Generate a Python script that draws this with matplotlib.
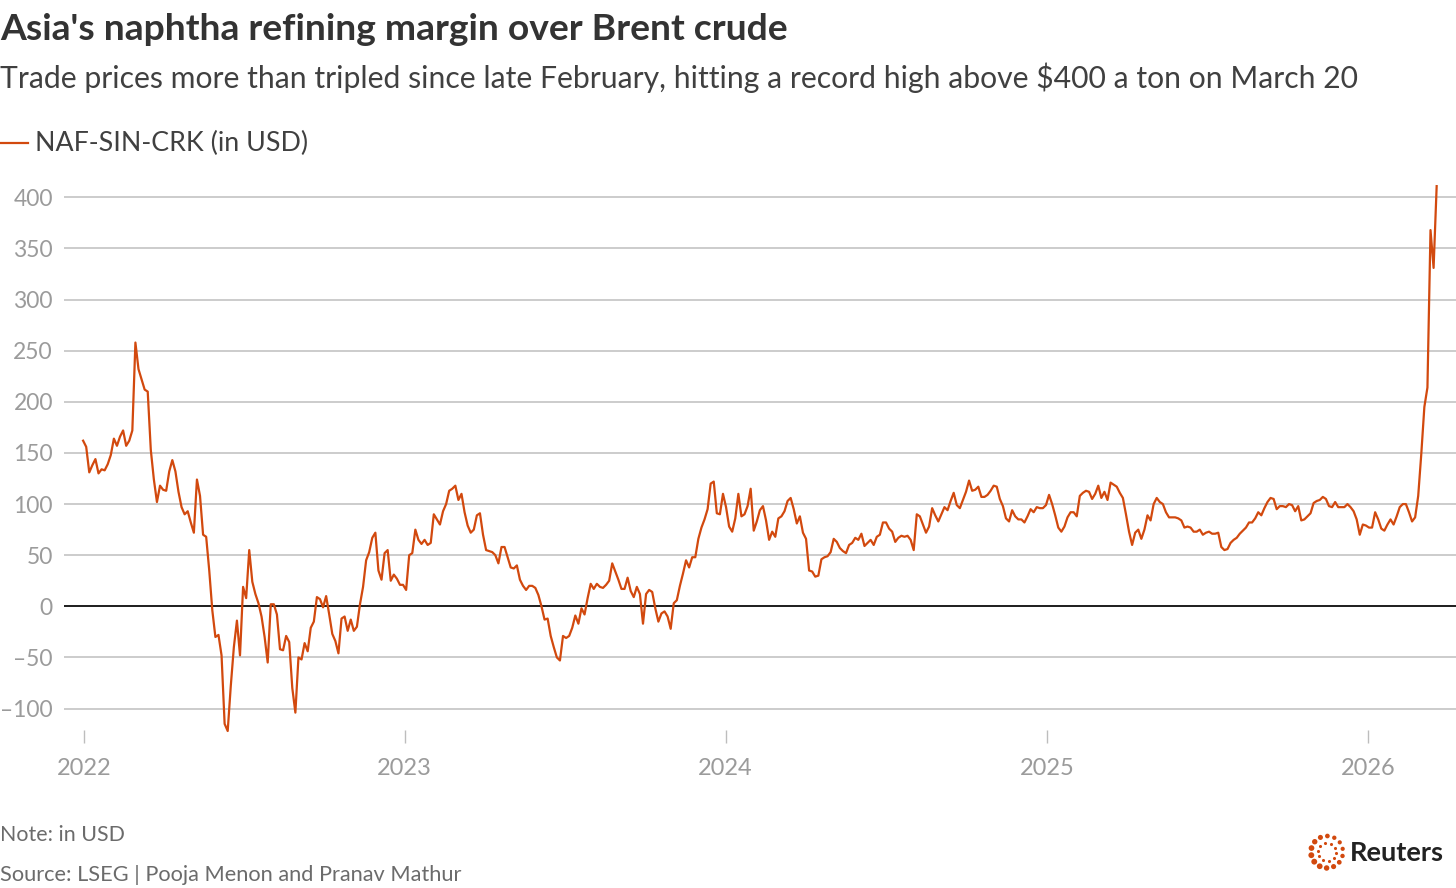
import matplotlib
matplotlib.use("Agg")
import matplotlib.pyplot as plt
import matplotlib.dates as mdates
import matplotlib.ticker as mticker
import numpy as np
import pandas as pd

# ---------------- data (semi-weekly readings, USD/ton) ----------------
series_name = "NAF-SIN-CRK (in USD)"
start_date = "2021-12-31"
end_date = "2026-03-20"
margin_values = [
    162, 156, 131, 138, 144, 130, 134, 133, 139, 148,
    164, 157, 166, 172, 157, 162, 172, 258, 232, 222,
    212, 210, 153, 124, 102, 118, 114, 113, 132, 143,
    132, 112, 97, 90, 93, 82, 72, 124, 108, 70,
    68, 35, -4, -30, -28, -48, -115, -122, -78, -40,
    -14, -48, 19, 8, 55, 24, 12, 3,
    -10, -30,
    -55, 2, 2, -8, -42, -43, -29, -35, -80, -104,
    -50, -52, -36, -44, -21, -15, 9, 7, -1, 10,
    -8, -27, -34, -46, -12, -10, -24, -13, -24, -20,
    2, 19, 45, 53, 67, 72, 35, 26, 52, 55,
    25, 31, 27, 21, 21, 16, 50, 52, 75, 65,
    61, 65, 60,
    62, 90, 85, 80, 93, 100, 113,
    115, 118, 104, 110, 92, 79, 72, 75, 89, 91,
    70, 55, 54, 53, 50, 42, 58, 58, 48, 38,
    37, 40, 26, 20, 16, 20, 20, 18, 11, 0,
    -13, -12, -29, -40, -50, -53, -29, -31, -29, -21,
    -9, -17, -2, -8, 8, 22, 17, 22, 19,
    18, 21, 25, 42, 34, 26, 17, 17, 28, 15, 9,
    19, 12, -17, 12, 16, 14, -2, -15, -7, -5,
    -10, -22, 3, 6, 20, 32, 45, 38, 48, 48,
    66, 77, 85, 95, 120, 122, 91, 90, 110, 97,
    78, 73, 86, 110, 88, 90, 98, 115, 74, 83,
    94, 98, 84, 65,
    73, 68, 86, 88, 93, 103,
    106, 95, 81, 88, 72, 66, 35, 34, 29, 30,
    46, 48, 49, 53, 66, 63, 57, 54, 52, 60,
    62, 67, 65, 71, 59, 62, 65, 60, 68, 70,
    82, 82, 76, 73, 63, 67, 69, 68, 69, 65,
    55, 90, 88, 80, 72, 78, 96, 89, 83,
    90, 97, 94, 103, 111, 99, 96, 104, 112, 123, 113,
    114, 117, 107, 107, 109, 113, 118, 117, 105, 98,
    86, 83, 94, 88, 85, 85, 82, 88, 95, 92,
    97, 96, 96, 99, 109, 100, 89, 77, 73, 78,
    87, 92, 92, 88, 108, 111, 113, 112, 105, 110,
    118, 106, 112, 104,
    121, 119, 117, 111, 106, 90,
    73, 60, 72, 75, 66, 75, 89, 84, 100, 106,
    102, 100, 92, 87, 87, 87, 86, 84, 77, 78,
    77, 73, 73, 75, 70, 72, 73, 71, 71, 72,
    58, 55, 56, 62, 65, 67, 71, 74, 77, 82,
    82, 86, 92, 89, 96, 102, 106, 105, 95, 98,
    98, 97, 100, 99, 93, 98, 84, 85, 88, 91,
    101, 103, 104, 107, 105, 98, 97, 102, 97, 97,
    97, 100, 97, 93, 85, 70, 80, 79, 77, 77,
    92, 85, 76, 74, 80, 85, 80, 88, 97, 100,
    100, 92, 83, 87, 108, 149, 195, 214, 368, 331, 411,
]
y_ticks = [-100, -50, 0, 50, 100, 150, 200, 250, 300, 350, 400]
x_tick_years = [2022, 2023, 2024, 2025, 2026]

title = "Asia's naphtha refining margin over Brent crude"
subtitle = ("Trade prices more than tripled since late February, hitting a record "
            "high above $400 a ton on March 20")
note = "Note: in USD"
source = "Source: LSEG | Pooja Menon and Pranav Mathur"

# ---------------- style ----------------
FONT = ["Lato", "DejaVu Sans"]
plt.rcParams["font.family"] = FONT
LINE_C = "#d2490e"
TEXT_C = "#404040"
TICK_C = "#9b9b9b"
GRID_C = "#c4c4c4"

dates = pd.date_range(end=end_date, periods=len(margin_values), freq="84h")

W, H = 1456, 888
fig = plt.figure(figsize=(W / 100, H / 100), dpi=100)
fig.patch.set_facecolor("white")

ax = fig.add_axes([64 / W, (H - 730) / H, 1 - 64 / W, (730 - 180) / H])
ax.plot(dates, margin_values, color=LINE_C, lw=1.6, clip_on=False, zorder=3,
        solid_joinstyle="round")
ax.axhline(0, color="#111111", lw=1.3, zorder=2)

ax.set_ylim(-121, 417)
ax.set_xlim(pd.Timestamp("2021-12-09 06:00"), pd.Timestamp("2026-04-11"))
ax.set_yticks(y_ticks)
ax.yaxis.set_major_formatter(
    mticker.FuncFormatter(lambda v, p: f"{v:.0f}".replace("-", "\u2013")))
ax.set_xticks([pd.Timestamp(f"{y}-01-01") for y in x_tick_years])
ax.xaxis.set_major_formatter(mdates.DateFormatter("%Y"))
ax.grid(axis="y", color=GRID_C, lw=1.2, zorder=1)
ax.grid(axis="x", visible=False)
for s in ax.spines.values():
    s.set_visible(False)
ax.tick_params(axis="y", length=0, pad=8, labelsize=16.5, labelcolor=TICK_C)
ax.tick_params(axis="x", length=9, width=1.0, color="#bdbdbd", direction="out",
               pad=11, labelsize=17, labelcolor=TICK_C)
for lab in ax.get_yticklabels():
    lab.set_horizontalalignment("right")

# ---------------- texts ----------------
fig.text(0.0, 1 - 29 / H, title, fontsize=26.8, fontweight="bold", color="#333333",
         va="center", ha="left")
fig.text(0.0, 1 - 78 / H, subtitle, fontsize=21.7, color=TEXT_C, va="center", ha="left")
fig.add_artist(plt.Line2D([0, 28 / W], [1 - 143 / H, 1 - 143 / H], color=LINE_C,
                          lw=1.6, transform=fig.transFigure))
fig.text(35 / W, 1 - 143 / H, series_name, fontsize=19.3, color=TEXT_C, va="center", ha="left")
fig.text(0.0, 1 - 835 / H, note, fontsize=15.4, color="#6b6b6b", va="center", ha="left")
fig.text(0.0, 1 - 875 / H, source, fontsize=15.7, color="#6b6b6b", va="center", ha="left")

# ---------------- Reuters logo ----------------
lax = fig.add_axes([1307 / W, 1 - 872 / H, 40 / W, 40 / H])
lax.set_xlim(-1.25, 1.25)
lax.set_ylim(-1.25, 1.25)
lax.set_aspect("equal")
lax.axis("off")
n_out = 14
ang_out = np.linspace(0, 2 * np.pi, n_out, endpoint=False) + 0.2
size_out = 9 + 9 * (0.5 + 0.5 * np.cos(ang_out - 3.6))
lax.scatter(np.cos(ang_out), np.sin(ang_out), s=size_out, color=LINE_C, lw=0)
n_in = 10
ang_in = np.linspace(0, 2 * np.pi, n_in, endpoint=False) + 0.5
lax.scatter(0.58 * np.cos(ang_in), 0.58 * np.sin(ang_in), s=5, color=LINE_C, lw=0)
fig.text(1350 / W, 1 - 853 / H, "Reuters", fontsize=19.5, fontweight="bold",
         color="#222222", va="center", ha="left")

fig.savefig("out.png", dpi=100, facecolor="white")
